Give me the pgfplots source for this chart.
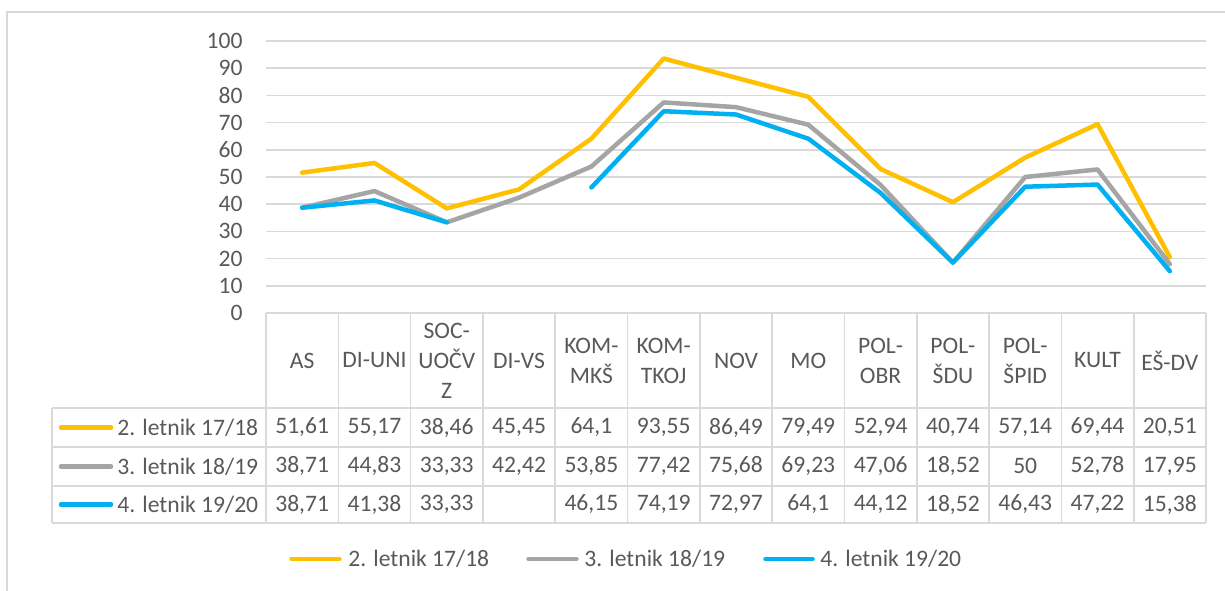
\documentclass[border=0pt]{standalone}
\usepackage{pgfplots}
\pgfplotsset{compat=1.18}
\usepackage{pgfplotstable}
\usepackage{fontspec}
\setmainfont{Carlito}
\definecolor{cy}{HTML}{FFC000}
\definecolor{cg}{HTML}{A5A5A5}
\definecolor{cb}{HTML}{00B0F0}
\definecolor{ctxt}{HTML}{595959}
\definecolor{cgrid}{HTML}{D9D9D9}
\newcommand{\tf}{\fontsize{11.8}{15}\selectfont}

\pgfplotstableread{
x a b c
0 51.61 38.71 38.71
1 55.17 44.83 41.38
2 38.46 33.33 33.33
3 45.45 42.42 nan
4 64.1 53.85 46.15
5 93.55 77.42 74.19
6 86.49 75.68 72.97
7 79.49 69.23 64.1
8 52.94 47.06 44.12
9 40.74 18.52 18.52
10 57.14 50 46.43
11 69.44 52.78 47.22
12 20.51 17.95 15.38
}\datatable

\begin{document}
\begin{tikzpicture}
\useasboundingbox (0,0) rectangle (612.5pt,-295pt);
\begin{scope}[x=0.5pt,y=-0.5pt]
\draw[cgrid, line width=0.6pt] (7,700) -- (7,12) -- (1300,12);
% data table grid
\foreach \yy in {408,447,486,523} \draw[cgrid, line width=0.8pt] (52,\yy) -- (1206,\yy);
\draw[cgrid, line width=0.8pt] (52,408) -- (52,523);
\foreach \k in {0,...,13} \draw[cgrid, line width=0.8pt] ({266+72.3077*\k},313) -- ({266+72.3077*\k},523);
% row keys and labels
\draw[cy, line width=2.25pt, line cap=round] (61,427.5) -- (111,427.5);
\draw[cg, line width=2.25pt, line cap=round] (61,466.5) -- (111,466.5);
\draw[cb, line width=2.25pt, line cap=round] (61,504.5) -- (111,504.5);
\node[anchor=west, inner sep=0pt, text=ctxt, font=\tf] at (117,427.5) {2. letnik 17/18};
\node[anchor=west, inner sep=0pt, text=ctxt, font=\tf] at (117,466.5) {3. letnik 18/19};
\node[anchor=west, inner sep=0pt, text=ctxt, font=\tf] at (117,504.5) {4. letnik 19/20};
% legend
\draw[cy, line width=2.25pt, line cap=round] (291.5,559) -- (339.5,559);
\draw[cg, line width=2.25pt, line cap=round] (528.5,559) -- (576.5,559);
\draw[cb, line width=2.25pt, line cap=round] (765.5,559) -- (812.5,559);
\node[anchor=west, inner sep=0pt, text=ctxt, font=\tf] at (348,559) {2. letnik 17/18};
\node[anchor=west, inner sep=0pt, text=ctxt, font=\tf] at (584,559) {3. letnik 18/19};
\node[anchor=west, inner sep=0pt, text=ctxt, font=\tf] at (820,559) {4. letnik 19/20};
\end{scope}
\begin{axis}[
  at={(133pt,-156.5pt)}, anchor=south west,
  scale only axis, width=470pt, height=136pt,
  xmin=-0.5, xmax=12.5, ymin=0, ymax=100,
  clip=false,
  axis line style={draw=none},
  tick style={draw=none},
  ytick={0,10,...,100},
  ymajorgrids, grid style={cgrid, line width=0.8pt},
  /pgf/number format/assume math mode=true,
  yticklabel style={font=\tf, text=ctxt, inner sep=0pt, anchor=east, xshift=-11.5pt},
  xtick={0,...,12},
  xticklabels={AS, DI-UNI, {SOC-\\UOČV\\Z}, DI-VS, {KOM-\\MKŠ}, {KOM-\\TKOJ}, NOV, MO, {POL-\\OBR}, {POL-\\ŠDU}, {POL-\\ŠPID}, KULT, EŠ-DV},
  xticklabel style={font=\tf, text=ctxt, align=center, anchor=center, inner sep=0pt, yshift=-23.75pt},
  unbounded coords=jump,
]
\addplot[cy, line width=2.25pt, line join=round, line cap=round] table[x=x,y=a]{\datatable};
\addplot[cg, line width=2.25pt, line join=round, line cap=round] table[x=x,y=b]{\datatable};
\addplot[cb, line width=2.25pt, line join=round, line cap=round] table[x=x,y=c]{\datatable};
% data table values
\addplot[draw=none, mark=none, forget plot, nodes near coords, point meta=explicit symbolic,
  nodes near coords style={anchor=center, inner sep=0pt, font=\tf, text=ctxt}] coordinates {
(0,-42.1)[51,61] (1,-42.1)[55,17] (2,-42.1)[38,46] (3,-42.1)[45,45] (4,-42.1)[64,1] (5,-42.1)[93,55] (6,-42.1)[86,49] (7,-42.1)[79,49] (8,-42.1)[52,94] (9,-42.1)[40,74] (10,-42.1)[57,14] (11,-42.1)[69,44] (12,-42.1)[20,51]};
\addplot[draw=none, mark=none, forget plot, nodes near coords, point meta=explicit symbolic,
  nodes near coords style={anchor=center, inner sep=0pt, font=\tf, text=ctxt}] coordinates {
(0,-56.4)[38,71] (1,-56.4)[44,83] (2,-56.4)[33,33] (3,-56.4)[42,42] (4,-56.4)[53,85] (5,-56.4)[77,42] (6,-56.4)[75,68] (7,-56.4)[69,23] (8,-56.4)[47,06] (9,-56.4)[18,52] (10,-56.4)[50] (11,-56.4)[52,78] (12,-56.4)[17,95]};
\addplot[draw=none, mark=none, forget plot, nodes near coords, point meta=explicit symbolic,
  nodes near coords style={anchor=center, inner sep=0pt, font=\tf, text=ctxt}] coordinates {
(0,-70.4)[38,71] (1,-70.4)[41,38] (2,-70.4)[33,33] (4,-70.4)[46,15] (5,-70.4)[74,19] (6,-70.4)[72,97] (7,-70.4)[64,1] (8,-70.4)[44,12] (9,-70.4)[18,52] (10,-70.4)[46,43] (11,-70.4)[47,22] (12,-70.4)[15,38]};
\end{axis}
\end{tikzpicture}
\end{document}
